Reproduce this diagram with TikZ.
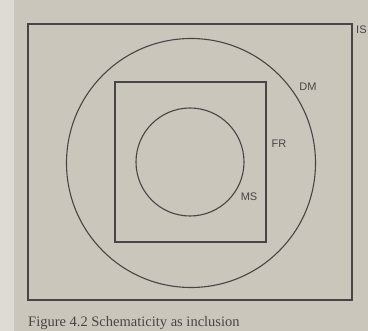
\documentclass[tikz,border=0pt]{standalone}
\usepackage{fontspec}
\setmainfont{Liberation Serif}
\setsansfont{Liberation Sans}
\usetikzlibrary{positioning}
\definecolor{paper}{RGB}{203,198,188}
\definecolor{margin}{RGB}{222,219,212}
\definecolor{ink}{RGB}{72,70,68}
\tikzset{
    region/.style={ink, line width=1.1pt},
    tag/.style={ink, font=\sffamily\fontsize{11}{12}\selectfont}
}
\begin{document}
\begin{tikzpicture}[x=1pt, y=-1pt]
    % Page
    \fill[margin] (0,0) rectangle (368,331);
    \fill[paper] (14,0) rectangle (368,331);
    \useasboundingbox (0,0) rectangle (368,331);
    % Nested regions
    \draw[region] (28,24) rectangle (352,300);
    \draw[region] (191,163) circle (124.5);
    \draw[region] (115,82) rectangle (266,242);
    \draw[region] (190,162) circle (54);
    % Labels
    \node[tag, anchor=west, inner sep=1pt] (is) at (355,30) {IS};
    \node[tag] (dm) at (308,87) {DM};
    \node[tag] (fr) at (279,144) {FR};
    \node[tag] (ms) at (249,197) {MS};
    % Caption
    \node[ink, font=\fontsize{14.5}{16}\selectfont, anchor=base west, inner sep=0pt] (caption) at (28,327) {Figure 4.2 Schematicity as inclusion};
\end{tikzpicture}
\end{document}
